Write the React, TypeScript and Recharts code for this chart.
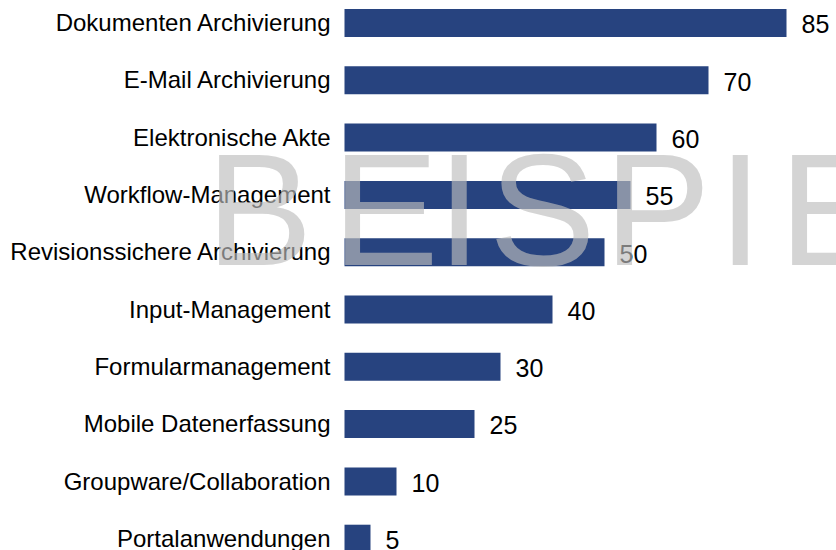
import React from "react";
import { BarChart, Bar, XAxis, YAxis, LabelList } from "recharts";

const categories = [
  "Dokumenten Archivierung",
  "E-Mail Archivierung",
  "Elektronische Akte",
  "Workflow-Management",
  "Revisionssichere Archivierung",
  "Input-Management",
  "Formularmanagement",
  "Mobile Datenerfassung",
  "Groupware/Collaboration",
  "Portalanwendungen",
];
const values = [85, 70, 60, 55, 50, 40, 30, 25, 10, 5];

const watermarkLetters = ["B", "E", "I", "S", "P", "I", "E", "L"];
const watermarkX = [206, 332, 437, 489, 604, 718, 779, 885];

const data = categories.map((name, i) => ({ name, value: values[i] }));

const font = "'Liberation Sans', Arial, sans-serif";

// value label right of the bar, a touch below its middle like the original
const ValueLabel = (props: any) => {
  const { x, y, width, height, value } = props;
  return (
    <text
      x={x + width + 15}
      y={y + height / 2 + 1.5}
      dy="0.355em"
      textAnchor="start"
      fill="#000"
      fontSize={25}
      fontFamily={font}
    >
      {value}
    </text>
  );
};

export default function App() {
  return (
    <div
      style={{
        position: "absolute",
        left: 0,
        top: 0,
        width: 836,
        height: 550,
        overflow: "hidden",
        background: "#fff",
      }}
    >
      <div style={{ position: "absolute", left: 0, top: -6 }}>
        <BarChart
          width={836}
          height={573}
          layout="vertical"
          data={data}
          margin={{ top: 0, right: 23.5, bottom: 0, left: 0 }}
        >
          <XAxis type="number" hide domain={[0, 90]} />
          <YAxis
            type="category"
            dataKey="name"
            width={344.5}
            axisLine={false}
            tickLine={false}
            tickSize={0}
            tickMargin={14}
            interval={0}
            tick={{ fill: "#000", fontSize: 24, fontFamily: font }}
          />
          <Bar dataKey="value" fill="#27437f" barSize={28} isAnimationActive={false}>
            <LabelList dataKey="value" content={ValueLabel} />
          </Bar>
        </BarChart>
      </div>
      <svg
        width={836}
        height={550}
        style={{ position: "absolute", left: 0, top: 0, pointerEvents: "none" }}
      >
        <text
          y={265}
          fontSize={160}
          fontFamily={font}
          fill="rgb(189,189,189)"
          fillOpacity={0.65}
        >
          {watermarkLetters.map((ch, i) => (
            <tspan key={i} x={watermarkX[i]}>
              {ch}
            </tspan>
          ))}
        </text>
      </svg>
    </div>
  );
}
